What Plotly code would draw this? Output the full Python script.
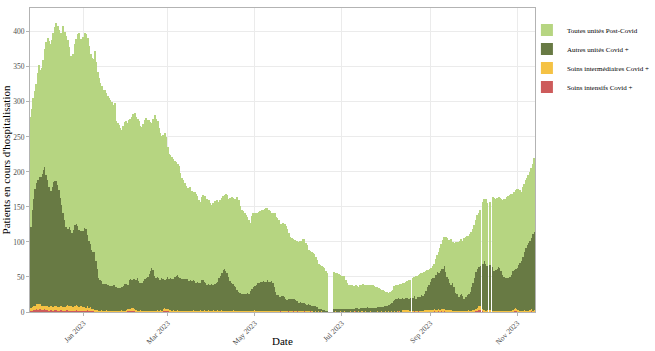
import pandas as pd
import plotly.graph_objects as go

N = None
dates = pd.date_range("2022-11-25", "2023-11-13", freq="D")

post_covid = [
    157,145,143,140,141,152,160,152,152,157,
    169,190,203,208,209,211,213,220,225,227,
    229,235,242,268,269,272,271,256,249,244,
    251,258,264,274,282,275,271,276,279,279,
    281,278,272,273,275,287,284,282,285,281,
    278,277,277,273,270,264,265,263,257,259,
    236,236,233,229,225,228,231,232,232,229,
    229,233,235,237,233,228,228,223,223,224,
    227,229,224,220,212,207,216,229,228,222,
    214,210,203,205,209,203,186,178,175,174,
    171,166,162,159,158,151,145,141,137,133,
    130,130,133,129,127,127,127,122,119,115,
    118,122,123,121,123,120,117,113,117,119,
    114,117,109,108,107,105,105,110,112,112,
    119,122,123,125,127,133,131,125,120,118,
    116,112,109,105,97,104,106,105,102,101,
    101,101,102,102,104,105,104,103,101,97,
    99,107,107,110,107,104,102,104,105,105,
    102,94,88,86,86,85,85,86,87,87,
    89,90,91,87,85,78,77,76,74,74,
    69,67,64,63,61,61,60,57,54,
    N,N,N,N,
    52,51,50,49,49,47,47,46,41,38,
    34,35,34,31,32,32,31,31,32,33,
    33,33,33,31,32,32,32,31,31,30,
    28,27,26,25,24,22,21,19,17,17,
    17,16,20,19,19,19,21,21,21,23,
    23,24,26,26,N,29,27,32,31,32,
    32,31,33,31,28,25,21,18,16,17,
    21,22,24,30,33,36,41,41,50,56,
    56,61,65,59,64,73,75,78,78,78,
    79,86,85,84,84,82,78,77,76,75,
    77,78,80,N,88,89,93,91,N,90,
    N,100,104,102,101,100,100,102,107,111,
    113,116,118,117,115,111,112,113,112,109,
    104,99,100,97,96,96,97,98,99,100,106,
]

autres_covid = [
    116,138,154,167,172,177,181,182,188,194,
    198,188,179,172,164,170,178,178,178,175,
    167,155,144,134,124,113,108,114,109,105,
    110,116,116,115,110,107,108,109,113,112,
    102,96,90,85,82,82,70,58,48,44,
    41,39,38,37,38,39,35,35,37,37,
    34,32,32,33,32,35,38,37,34,41,
    42,40,41,43,43,46,42,39,40,42,
    45,46,48,52,57,61,58,50,46,47,
    46,43,46,43,40,42,45,43,46,45,
    44,49,50,50,49,46,45,45,45,45,
    45,41,43,42,42,43,39,41,40,39,
    44,43,40,40,36,37,38,38,36,39,
    39,40,47,50,53,58,60,56,54,48,
    43,40,37,36,33,29,27,26,24,24,
    23,25,25,24,28,32,33,34,37,39,
    41,41,41,42,41,41,43,42,41,43,
    40,34,28,23,23,21,22,21,20,17,
    16,18,18,18,17,17,16,14,12,13,
    12,13,12,11,9,10,9,8,9,9,
    8,7,4,4,3,3,2,2,1,
    N,N,N,N,
    5,4,5,5,3,5,5,4,4,4,
    4,3,4,5,4,5,6,4,6,5,
    6,6,5,7,6,5,6,6,6,6,
    6,7,7,6,7,8,7,9,9,11,
    12,16,16,19,18,19,18,19,17,16,
    17,17,16,19,N,19,22,18,20,20,
    21,22,21,23,27,32,36,40,44,46,
    44,50,54,52,55,57,58,62,54,47,
    44,39,36,39,33,25,23,20,21,25,
    21,17,20,23,22,27,35,38,45,53,
    55,55,57,N,64,70,66,62,N,64,
    N,62,57,58,60,62,61,57,51,48,
    47,46,46,48,51,55,55,55,59,64,
    68,71,77,83,91,93,98,99,102,109,111,
]

soins_intermediaires = [
    4,5,5,6,8,9,8,7,6,6,
    5,5,6,5,6,5,5,6,6,5,
    5,5,6,5,5,6,7,6,6,5,
    5,6,7,6,5,6,6,5,5,4,
    5,4,5,3,2,2,2,2,1,1,
    2,1,1,2,1,1,2,1,1,2,
    1,2,1,1,2,1,2,2,3,3,
    4,4,5,3,2,2,1,2,1,1,
    1,2,1,1,2,1,1,2,1,2,
    1,2,2,3,4,4,3,3,2,1,
    2,1,1,2,1,1,2,1,1,2,
    1,2,2,1,2,1,2,1,1,2,
    2,1,2,1,1,2,1,1,2,1,
    1,2,1,1,2,2,1,2,1,1,
    1,1,2,1,1,2,1,1,1,2,
    1,1,1,2,1,1,1,2,2,1,
    1,1,2,1,1,2,1,1,1,1,
    1,1,0,1,1,0,1,1,1,1,
    1,0,1,1,0,1,1,0,1,1,
    1,1,0,1,1,1,0,1,1,0,
    1,0,1,0,1,0,1,0,0,
    N,N,N,N,
    0,1,0,0,1,0,0,1,0,0,
    0,1,0,0,1,0,0,1,0,1,
    1,0,1,0,0,1,0,1,0,0,
    1,0,0,1,0,0,1,0,1,0,
    1,0,1,0,1,0,1,0,2,3,
    2,3,2,1,N,1,0,1,1,0,
    1,1,2,2,3,2,2,3,2,2,
    3,2,3,3,2,3,4,3,2,3,
    2,3,2,1,2,1,2,1,2,1,
    1,2,1,1,2,1,1,2,2,3,
    4,6,5,N,3,2,1,2,N,2,
    N,1,2,1,1,2,1,1,2,1,
    2,1,1,2,1,2,3,4,3,2,
    1,2,1,2,1,2,1,2,3,2,2,
]

soins_intensifs = [
    2,2,3,3,4,3,4,4,3,3,
    4,3,3,2,3,3,2,3,3,2,
    2,3,3,2,2,3,3,2,2,3,
    2,2,3,2,2,2,3,2,2,2,
    3,2,2,1,2,1,1,1,0,1,
    1,0,1,1,0,1,0,1,1,0,
    1,0,1,0,1,1,0,1,1,1,
    1,2,1,1,1,0,1,1,0,1,
    1,0,1,1,0,1,1,0,1,1,
    1,1,0,1,2,1,2,1,1,1,
    1,0,1,1,0,1,0,1,1,0,
    1,1,0,1,1,0,1,1,0,1,
    0,1,1,0,1,1,0,1,1,0,
    1,1,0,1,1,0,1,1,0,1,
    0,1,1,0,1,0,1,0,1,0,
    1,0,1,0,1,0,1,1,0,1,
    0,1,0,1,1,0,1,0,1,0,
    1,0,1,0,0,1,0,1,0,0,
    0,1,0,0,1,0,0,1,0,0,
    0,0,1,0,0,0,1,0,0,0,
    0,0,0,0,0,0,0,0,0,
    N,N,N,N,
    0,0,0,0,0,0,0,0,0,0,
    0,0,0,0,0,1,0,0,0,0,
    0,0,0,0,0,0,0,0,0,0,
    0,0,0,0,0,0,0,0,0,0,
    0,0,0,0,0,1,0,0,1,0,
    1,0,1,0,N,0,1,0,0,1,
    0,1,0,1,0,1,1,0,1,1,
    1,1,0,1,1,1,0,1,1,0,
    1,0,1,1,0,1,0,1,1,0,
    1,0,1,0,1,1,0,1,1,1,
    2,3,3,N,2,1,1,1,N,1,
    N,1,0,1,1,0,1,1,0,1,
    0,1,1,0,1,1,2,2,1,1,
    1,0,1,1,0,1,0,1,1,0,1,
]

series_names = ["Soins intensifs Covid +", "Soins intermédiaires Covid +",
                "Autres unités Covid +", "Toutes unités Post-Covid"]
series_values = [soins_intensifs, soins_intermediaires, autres_covid, post_covid]
series_colors = ["#cd5b5b", "#f5c244", "#687a44", "#b6d581"]

FONT = "Liberation Serif"

fig = go.Figure()
for name, vals, col in zip(series_names, series_values, series_colors):
    fig.add_trace(go.Bar(x=dates, y=vals, name=name,
                         marker=dict(color=col, line=dict(width=0))))

fig.update_layout(
    barmode="stack",
    bargap=0.12,
    width=655, height=351,
    margin=dict(l=30, r=120, t=8, b=39, autoexpand=False),
    paper_bgcolor="white", plot_bgcolor="white",
    font=dict(family=FONT, size=8, color="#4d4d4d"),
    legend=dict(traceorder="reversed", x=0.984, y=0.975, xanchor="left", yanchor="top",
                font=dict(family=FONT, size=7, color="black"),
                bgcolor="rgba(0,0,0,0)", tracegroupgap=0),
    xaxis=dict(
        type="date", automargin=False,
        range=["2022-11-24 12:00", "2023-11-13 12:00"],
        tick0="2023-01-01", dtick="M2", tickformat="%b %Y",
        tickangle=-45, ticks="outside", ticklen=3, tickcolor="#b3b3b3",
        showgrid=True, gridcolor="#ebebeb", gridwidth=1,
        showline=True, linecolor="#b3b3b3", linewidth=1, mirror=True,
        tickfont=dict(family=FONT, size=7.5, color="#4d4d4d"),
    ),
    yaxis=dict(
        range=[0, 434], automargin=False,
        tick0=0, dtick=50,
        ticks="outside", ticklen=3, tickcolor="#b3b3b3",
        showgrid=True, gridcolor="#ebebeb", gridwidth=1,
        showline=True, linecolor="#b3b3b3", linewidth=1, mirror=True,
        zeroline=False,
        tickfont=dict(family=FONT, size=7.5, color="#4d4d4d"),
        title=dict(text="Patients en cours d'hospitalisation",
                   font=dict(family=FONT, size=11, color="black"), standoff=2),
    ),
    annotations=[dict(text="Date", xref="paper", yref="paper", x=0.5, y=-0.095,
                      xanchor="center", yanchor="middle", showarrow=False,
                      font=dict(family=FONT, size=11, color="black"))],
)

fig.write_html("out.html")
